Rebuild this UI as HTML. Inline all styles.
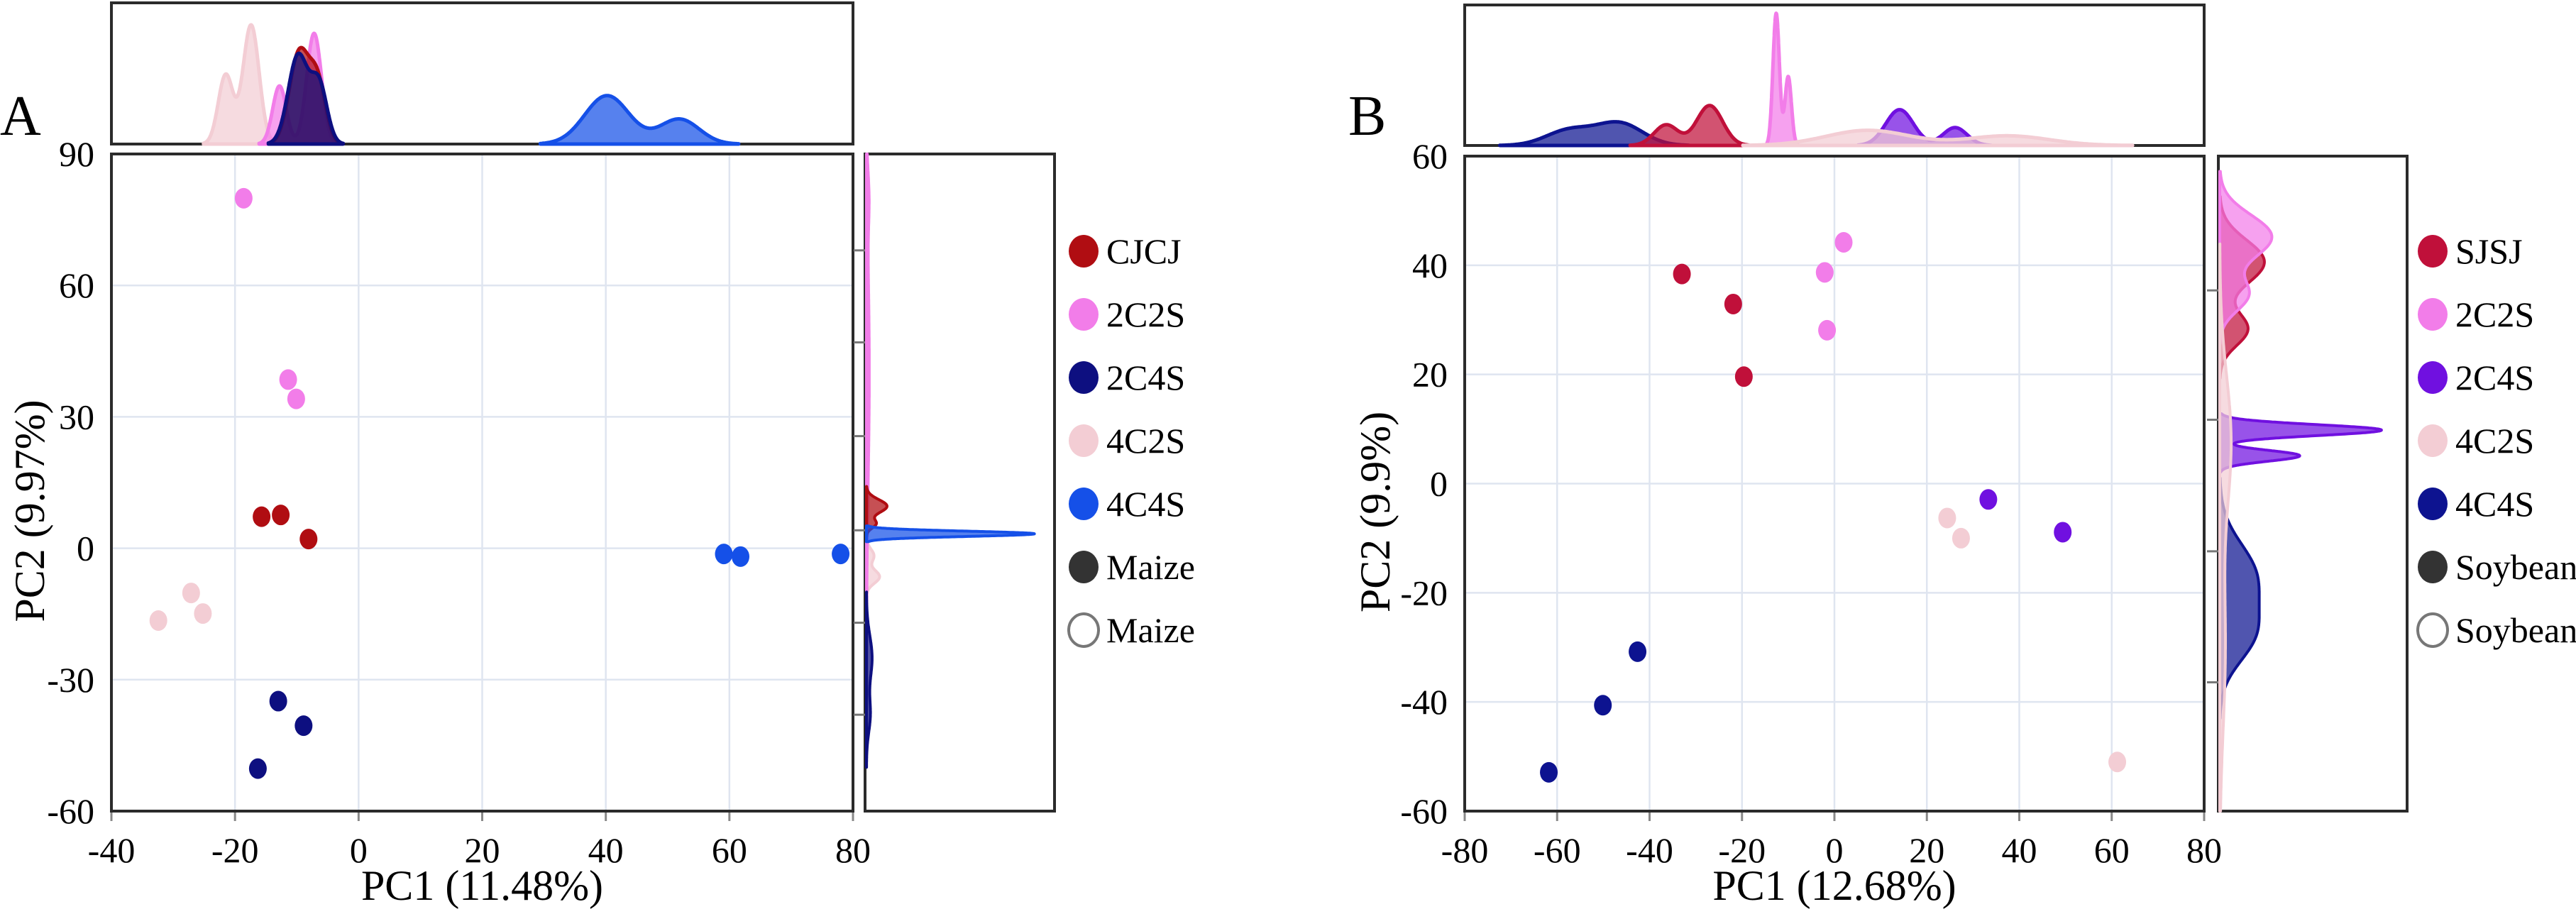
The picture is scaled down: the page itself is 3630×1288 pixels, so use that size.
<!DOCTYPE html>
<html><head><meta charset="utf-8"><style>
html,body{margin:0;padding:0;background:#fff;}
svg, svg text{font-family:"Liberation Serif","Times New Roman",serif;}
</style></head><body>
<svg id="fig" width="3630" height="1283" viewBox="0 0 3630 1283" xmlns="http://www.w3.org/2000/svg" font-family="Liberation Serif, serif">
<text x="0" y="190" font-size="80">A</text>
<text x="1900" y="190" font-size="80">B</text>
</svg>
<script>
// ---------- Panel A data ----------
const aGroups = ["CJCJ","2C2S","2C4S","4C2S","4C4S"];
const aColors = ["#b00d12","#f27de9","#0d0f80","#f3cdd4","#1550e8"];
const aPC1 = [[-15.7,-12.6,-8.1],[-18.6,-11.4,-10.1],[-13,-8.9,-16.3],[-27.1,-25.2,-32.4],[59.1,61.8,78]];
const aPC2 = [[7.2,7.6,2.1],[79.9,38.5,34.1],[-34.9,-40.5,-50.3],[-10.2,-14.9,-16.5],[-1.3,-1.9,-1.3]];
const aXTicks = [-40,-20,0,20,40,60,80];
const aYTicks = [90,60,30,0,-30,-60];
const aTopDens = [[[-9.6,1.6,0.66],[-6.6,1.3,0.42]],[[-12.8,1.1,0.42],[-7.2,1.2,0.8]],[[-9.8,1.6,0.64],[-6.4,1.3,0.42]],[[-21.5,1.2,0.5],[-17.4,1.3,0.86]],[[40.2,3.6,0.35],[51.9,3.2,0.18]]];
const aRightDens = [[[9.6,1.5,0.11],[5.6,1,0.05]],[[40,25,0.015],[80,6,0.01]],[[-25,5,0.03],[-38,4,0.02]],[[-1.7,1.5,0.04],[-6.5,1.5,0.07]],[[3.3,0.6,0.9]]];
const aLegend = ["CJCJ","2C2S","2C4S","4C2S","4C4S","Maize","Maize"];

// ---------- Panel B data ----------
const bGroups = ["SJSJ","2C2S","2C4S","4C2S","4C4S"];
const bColors = ["#c0103a","#f27de9","#7010e0","#f3cdd4","#0d1390"];
const bPC1 = [[-33,-21.9,-19.6],[2,-2.1,-1.6],[33.3,49.4],[24.4,27.4,61.2],[-42.6,-50.1,-61.8]];
const bPC2 = [[38.4,32.9,19.6],[44.2,38.7,28.1],[-2.9,-8.9],[-6.3,-10,-51],[-30.8,-40.6,-52.9]];
const bXTicks = [-80,-60,-40,-20,0,20,40,60,80];
const bYTicks = [60,40,20,0,-20,-40,-60];
const bTopDens = [[[-36.4,2.6,0.15],[-27,2.8,0.29]],[[-12.6,0.7,0.96],[-10,0.7,0.5]],[[14.1,3,0.26],[26.1,2.6,0.13]],[[7.2,9,0.11],[37.5,9,0.07]],[[-57.4,5,0.11],[-46.5,5,0.16]]];
const bRightDens = [[[40.6,4,0.24],[28.3,3,0.15]],[[45.2,4,0.28],[34.6,3,0.15]],[[9.8,1,0.87],[5.1,1,0.43]],[[7.9,12,0.06],[-30,15,0.03]],[[-17,6,0.19],[-28,5,0.16]]];
const bLegend = ["SJSJ","2C2S","2C4S","4C2S","4C4S","Soybean","Soybean"];

const NS = "http://www.w3.org/2000/svg";
const svg = document.getElementById("fig");
function mk(tag, attrs, parent){ const e=document.createElementNS(NS,tag); for(const k in attrs) e.setAttribute(k,attrs[k]); if(tag==="text") e.setAttribute("font-family","Liberation Serif, serif"); (parent||svg).appendChild(e); return e; }

function dens(peaks, v){ let s=0; for(const p of peaks){ s+=p[2]*Math.exp(-0.5*Math.pow((v-p[0])/p[1],2)); } return s; }
function range(peaks){ let lo=Infinity,hi=-Infinity; for(const p of peaks){ lo=Math.min(lo,p[0]-3*p[1]); hi=Math.max(hi,p[0]+3*p[1]); } return [lo,hi]; }

function panel(P){
  const g = mk("g",{});
  
  
  const X = v => P.x0 + (v-P.xmin)/(P.xmax-P.xmin)*(P.x1-P.x0);
  const Y = v => P.y1 - (v-P.ymin)/(P.ymax-P.ymin)*(P.y1-P.y0);
  P.xTicks.forEach(t=>{ if(t===P.xmin||t===P.xmax) return;
    const l=mk("line",{x1:X(t),x2:X(t),y1:P.y0,y2:P.y1,stroke:"#dfe5f0","stroke-width":2.5},g);
    
     });
  P.yTicks.forEach(t=>{ if(t===P.ymin||t===P.ymax) return;
    const l=mk("line",{x1:P.x0,x2:P.x1,y1:Y(t),y2:Y(t),stroke:"#dfe5f0","stroke-width":2.5},g);
    
     });
  P.xTicks.forEach(t=>{
    const tx=mk("text",{x:X(t),y:P.y1+72,"text-anchor":"middle","font-size":50},g); tx.textContent=t;
    
    
    const tk=mk("line",{x1:X(t),x2:X(t),y1:P.y1,y2:P.y1+14,stroke:"#888","stroke-width":3},g);
    
     });
  P.yTicks.forEach(t=>{
    const tx=mk("text",{x:P.x0-24,y:Y(t)+17,"text-anchor":"end","font-size":50},g); tx.textContent=t;
    
     });
  const xt=mk("text",{x:(P.x0+P.x1)/2,y:1268,"text-anchor":"middle","font-size":60},g); xt.textContent=P.xTitle;
  
  
  const yt=mk("text",{x:0,y:0,"text-anchor":"middle","font-size":60,transform:`translate(${P.yTitleX},${(P.y0+P.y1)/2+40}) rotate(-90)`},g); yt.textContent=P.yTitle;
  
  
  P.groups.forEach((gname,i)=>{
    P.pc1[i].forEach((v,j)=>{
      const c=mk("ellipse",{cx:X(v),cy:Y(P.pc2[i][j]),rx:12.5,ry:14.5,fill:P.colors[i]},g);
      
       }); });
  const fr=mk("rect",{x:P.x0,y:P.y0,width:P.x1-P.x0,height:P.y1-P.y0,fill:"none",stroke:"#2b2b2b","stroke-width":4},g);
  
  
  const tb=P.topBox;
  const topFrame=mk("rect",{x:P.x0,y:tb[0],width:P.x1-P.x0,height:tb[1]-tb[0],fill:"none",stroke:"#2b2b2b","stroke-width":4},g);
  
  
  const H=tb[1]-tb[0]-4;
  P.order.forEach(i=>{
    const pk=P.topDens[i]; const [lo,hi]=range(pk); let d=`M${X(lo)},${tb[1]}`;
    for(let k=0;k<=240;k++){ const v=lo+(hi-lo)*k/240; d+=` L${X(v).toFixed(1)},${(tb[1]-dens(pk,v)*H).toFixed(1)}`; }
    d+=` L${X(hi)},${tb[1]} Z`;
    const p=mk("path",{d:d,fill:P.colors[i],"fill-opacity":0.72,stroke:P.colors[i],"stroke-width":5,"stroke-linejoin":"round"},g);
    
     });
  const rb=P.rightBox;
  const rFrame=mk("rect",{x:rb[0],y:P.y0,width:rb[1]-rb[0],height:P.y1-P.y0,fill:"none",stroke:"#2b2b2b","stroke-width":4},g);
  
  
  P.rTicks.forEach(t=>{ const l=mk("line",{x1:rb[0]-16,x2:rb[0],y1:Y(t),y2:Y(t),stroke:"#777","stroke-width":3},g);
    
     });
  const W=rb[1]-rb[0]-4;
  P.order.forEach(i=>{
    const pk=P.rightDens[i]; let [lo,hi]=range(pk); lo=Math.max(lo,P.ymin); hi=Math.min(hi,P.ymax);
    let d=`M${rb[0]+2},${Y(lo)}`;
    for(let k=0;k<=300;k++){ const v=lo+(hi-lo)*k/300; d+=` L${(rb[0]+2+dens(pk,v)*W).toFixed(1)},${Y(v).toFixed(1)}`; }
    d+=` L${rb[0]+2},${Y(hi)} Z`;
    const p=mk("path",{d:d,fill:P.colors[i],"fill-opacity":0.72,stroke:P.colors[i],"stroke-width":4,"stroke-linejoin":"round"},g);
    
     });
  P.legend.forEach((name,i)=>{
    const cy=354+89*i;
    const filled = i<5 ? P.colors[i] : (i===5 ? "#333333" : "#ffffff");
    const c=mk("ellipse",{cx:P.legX,cy:cy,rx:21,ry:23,fill:filled,stroke:i===6?"#777":"none","stroke-width":4},g);
    
    
    const t=mk("text",{x:P.legX+32,y:cy+17,"font-size":50},g); t.textContent=name;
    
     });
}

panel({key:"a",x0:157,x1:1202,y0:217,y1:1143,xmin:-40,xmax:80,ymin:-60,ymax:90,
  xTicks:aXTicks,yTicks:aYTicks,xTitle:"PC1 (11.48%)",yTitle:"PC2 (9.97%)",yTitleX:62,
  groups:aGroups,colors:aColors,pc1:aPC1,pc2:aPC2,topBox:[4,203],topDens:aTopDens,
  rightBox:[1219,1486],rightDens:aRightDens,rTicks:[68,47,25.6,4.1,-17,-38],order:[3,1,0,2,4],
  legend:aLegend,legX:1527});
panel({key:"b",x0:2064,x1:3106,y0:220,y1:1143,xmin:-80,xmax:80,ymin:-60,ymax:60,
  xTicks:bXTicks,yTicks:bYTicks,xTitle:"PC1 (12.68%)",yTitle:"PC2 (9.9%)",yTitleX:1958,
  groups:bGroups,colors:bColors,pc1:bPC1,pc2:bPC2,topBox:[7,205],topDens:bTopDens,
  rightBox:[3126,3392],rightDens:bRightDens,rTicks:[35.4,11.7,-12.4,-36.4],order:[4,0,1,2,3],
  legend:bLegend,legX:3428});
</script>
</body></html>
